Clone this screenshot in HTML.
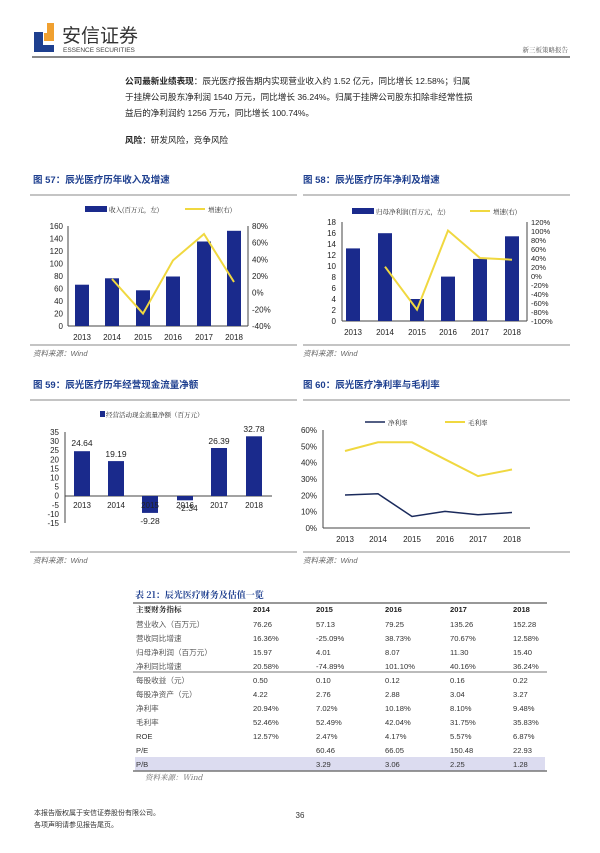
<!DOCTYPE html>
<html><head><meta charset="utf-8"><style>
body{margin:0;background:#fff}
svg text{font-family:"Liberation Sans","Noto Sans CJK SC",sans-serif}
.cn{font-family:"Noto Serif CJK SC","Noto Sans CJK SC",serif}
</style></head><body>
<svg width="600" height="848" viewBox="0 0 600 848" xmlns="http://www.w3.org/2000/svg">
<!-- header -->
<rect x="34" y="32" width="9" height="20" fill="#1e3f8f"/>
<rect x="34" y="45" width="20" height="7" fill="#1e3f8f"/>
<rect x="44" y="23" width="10" height="18" fill="#f0a030"/>
<rect x="44" y="23" width="3" height="10" fill="#fff"/>
<text x="62" y="42" font-size="19" fill="#333" class="cn" style="font-family:'Noto Sans CJK SC',sans-serif">安信证券</text>
<text x="63" y="52" font-size="6.5" fill="#444">ESSENCE SECURITIES</text>
<text x="568" y="52" font-size="6.5" fill="#555" text-anchor="end" class="cn">新三板策略报告</text>
<rect x="32" y="56" width="538" height="2" fill="#888"/>
<!-- paragraph -->
<g font-size="8.6" fill="#222" class="cn">
<text x="125" y="84"><tspan font-weight="bold">公司最新业绩表现</tspan>：辰光医疗报告期内实现营业收入约 1.52 亿元，同比增长 12.58%；归属</text>
<text x="125" y="100">于挂牌公司股东净利润 1540 万元，同比增长 36.24%。归属于挂牌公司股东扣除非经常性损</text>
<text x="125" y="116">益后的净利润约 1256 万元，同比增长 100.74%。</text>
<text x="125" y="143"><tspan font-weight="bold">风险</tspan>：研发风险，竞争风险</text>
</g>
<!-- titles -->
<g font-size="9.5" font-weight="bold" fill="#1e3f8f" class="cn">
<text x="33" y="183">图 57：辰光医疗历年收入及增速</text>
<text x="303" y="183">图 58：辰光医疗历年净利及增速</text>
<text x="33" y="388">图 59：辰光医疗历年经营现金流量净额</text>
<text x="303" y="388">图 60：辰光医疗净利率与毛利率</text>
</g>
<g stroke="#888" stroke-width="1">
<line x1="30" y1="195" x2="297" y2="195"/><line x1="303" y1="195" x2="570" y2="195"/>
<line x1="30" y1="345" x2="297" y2="345"/><line x1="303" y1="345" x2="570" y2="345"/>
<line x1="30" y1="400" x2="297" y2="400"/><line x1="303" y1="400" x2="570" y2="400"/>
<line x1="30" y1="552" x2="297" y2="552"/><line x1="303" y1="552" x2="570" y2="552"/>
</g>
<g font-size="7.5" fill="#666" font-style="italic" class="cn">
<text x="33" y="356">资料来源：Wind</text><text x="303" y="356">资料来源：Wind</text>
<text x="33" y="563">资料来源：Wind</text><text x="303" y="563">资料来源：Wind</text>
</g>
<!-- chart 57 -->
<g font-size="8" fill="#222">
<rect x="85" y="206" width="22" height="6" fill="#1a2a8c"/><text x="109" y="212" font-size="6.5" class="cn">收入(百万元，左)</text>
<line x1="185" y1="209" x2="205" y2="209" stroke="#f0d840" stroke-width="2"/><text x="208" y="212" font-size="6.5" class="cn">增速(右)</text>
<line x1="68" y1="226" x2="68" y2="326" stroke="#444"/><line x1="68" y1="326" x2="248" y2="326" stroke="#444"/><line x1="248" y1="226" x2="248" y2="326" stroke="#444"/>
<g text-anchor="end"><text x="63" y="229">160</text><text x="63" y="241.5">140</text><text x="63" y="254">120</text><text x="63" y="266.5">100</text><text x="63" y="279">80</text><text x="63" y="291.5">60</text><text x="63" y="304">40</text><text x="63" y="316.5">20</text><text x="63" y="329">0</text></g>
<g><text x="252" y="229">80%</text><text x="252" y="245.7">60%</text><text x="252" y="262.3">40%</text><text x="252" y="279">20%</text><text x="252" y="295.7">0%</text><text x="252" y="312.3">-20%</text><text x="252" y="329">-40%</text></g>
<g fill="#1a2a8c"><rect x="75" y="284.7" width="14" height="41.3"/><rect x="105" y="278.3" width="14" height="47.7"/><rect x="136" y="290.3" width="14" height="35.7"/><rect x="166" y="276.5" width="14" height="49.5"/><rect x="197" y="241.5" width="14" height="84.5"/><rect x="227" y="230.8" width="14" height="95.2"/></g>
<polyline points="112,279 143,313.6 173,260.4 204,234 234,282" fill="none" stroke="#f0d840" stroke-width="2"/>
<g text-anchor="middle"><text x="82" y="340">2013</text><text x="112" y="340">2014</text><text x="143" y="340">2015</text><text x="173" y="340">2016</text><text x="204" y="340">2017</text><text x="234" y="340">2018</text></g>
</g>
<!-- chart 58 -->
<g font-size="8" fill="#222">
<rect x="352" y="208" width="22" height="6" fill="#1a2a8c"/><text x="376" y="214" font-size="6.5" class="cn">归母净利润(百万元，左)</text>
<line x1="470" y1="211" x2="490" y2="211" stroke="#f0d840" stroke-width="2"/><text x="493" y="214" font-size="6.5" class="cn">增速(右)</text>
<line x1="342" y1="222" x2="342" y2="321" stroke="#444"/><line x1="342" y1="321" x2="527" y2="321" stroke="#444"/><line x1="527" y1="222" x2="527" y2="321" stroke="#444"/>
<g text-anchor="end"><text x="336" y="225">18</text><text x="336" y="236">16</text><text x="336" y="247">14</text><text x="336" y="258">12</text><text x="336" y="269">10</text><text x="336" y="280">8</text><text x="336" y="291">6</text><text x="336" y="302">4</text><text x="336" y="313">2</text><text x="336" y="324">0</text></g>
<g font-size="7.5"><text x="531" y="225">120%</text><text x="531" y="234">100%</text><text x="531" y="243">80%</text><text x="531" y="252">60%</text><text x="531" y="261">40%</text><text x="531" y="270">20%</text><text x="531" y="279">0%</text><text x="531" y="288">-20%</text><text x="531" y="297">-40%</text><text x="531" y="306">-60%</text><text x="531" y="315">-80%</text><text x="531" y="324">-100%</text></g>
<g fill="#1a2a8c"><rect x="346" y="248.4" width="14" height="72.6"/><rect x="378" y="233.2" width="14" height="87.8"/><rect x="410" y="299" width="14" height="22"/><rect x="441" y="276.6" width="14" height="44.4"/><rect x="473" y="258.9" width="14" height="62.1"/><rect x="505" y="236.3" width="14" height="84.7"/></g>
<polyline points="385,266.7 417,309.6 448,230.5 480,258 512,259.7" fill="none" stroke="#f0d840" stroke-width="2"/>
<g text-anchor="middle"><text x="353" y="335">2013</text><text x="385" y="335">2014</text><text x="417" y="335">2015</text><text x="448" y="335">2016</text><text x="480" y="335">2017</text><text x="512" y="335">2018</text></g>
</g>
<!-- chart 59 -->
<g font-size="8" fill="#222">
<rect x="100" y="411" width="5" height="6" fill="#1a2a8c"/><text x="106" y="417" font-size="6.5" class="cn">经营活动现金流量净额（百万元）</text>
<line x1="65" y1="432" x2="65" y2="523" stroke="#444"/><line x1="65" y1="496" x2="272" y2="496" stroke="#444"/>
<g text-anchor="end"><text x="59" y="435">35</text><text x="59" y="444">30</text><text x="59" y="453.2">25</text><text x="59" y="462.3">20</text><text x="59" y="471.4">15</text><text x="59" y="480.5">10</text><text x="59" y="489.6">5</text><text x="59" y="498.7">0</text><text x="59" y="507.8">-5</text><text x="59" y="516.9">-10</text><text x="59" y="526">-15</text></g>
<g fill="#1a2a8c"><rect x="74" y="451.2" width="16" height="44.8"/><rect x="108" y="461.1" width="16" height="34.9"/><rect x="142" y="496" width="16" height="16.9"/><rect x="177" y="496" width="16" height="4.3"/><rect x="211" y="448" width="16" height="48"/><rect x="246" y="436.3" width="16" height="59.7"/></g>
<g text-anchor="middle"><text x="82" y="508">2013</text><text x="116" y="508">2014</text><text x="150" y="508">2015</text><text x="185" y="508">2016</text><text x="219" y="508">2017</text><text x="254" y="508">2018</text>
<text x="82" y="446" font-size="8.5">24.64</text><text x="116" y="457" font-size="8.5">19.19</text><text x="150" y="524" font-size="8.5">-9.28</text><text x="188" y="511" font-size="8.5">-2.34</text><text x="219" y="444" font-size="8.5">26.39</text><text x="254" y="432" font-size="8.5">32.78</text></g>
</g>
<!-- chart 60 -->
<g font-size="8" fill="#222">
<line x1="365" y1="422" x2="385" y2="422" stroke="#1a2a5c" stroke-width="1.5"/><text x="388" y="425" font-size="6.5" class="cn">净利率</text>
<line x1="445" y1="422" x2="465" y2="422" stroke="#f0d840" stroke-width="2"/><text x="468" y="425" font-size="6.5" class="cn">毛利率</text>
<line x1="323" y1="430" x2="323" y2="528" stroke="#444"/><line x1="323" y1="528" x2="530" y2="528" stroke="#444"/>
<g text-anchor="end"><text x="317" y="433">60%</text><text x="317" y="449.3">50%</text><text x="317" y="465.7">40%</text><text x="317" y="482">30%</text><text x="317" y="498.3">20%</text><text x="317" y="514.7">10%</text><text x="317" y="531">0%</text></g>
<polyline points="345,451 378,442.3 412,442.3 445,459.3 478,476.1 512,469.5" fill="none" stroke="#f0d840" stroke-width="2"/>
<polyline points="345,495 378,493.8 412,516.5 445,511.4 478,514.8 512,512.5" fill="none" stroke="#1a2a5c" stroke-width="1.5"/>
<g text-anchor="middle"><text x="345" y="542">2013</text><text x="378" y="542">2014</text><text x="412" y="542">2015</text><text x="445" y="542">2016</text><text x="478" y="542">2017</text><text x="512" y="542">2018</text></g>
</g>
<!-- table -->
<text x="135" y="598" font-size="9" font-weight="bold" fill="#1e3f8f" class="cn">表 21：辰光医疗财务及估值一览</text>
<rect x="135" y="757" width="410" height="14" fill="#dcdcf0"/>
<line x1="133" y1="603" x2="547" y2="603" stroke="#777" stroke-width="1.5"/>
<line x1="133" y1="672" x2="547" y2="672" stroke="#777" stroke-width="1"/>
<line x1="133" y1="771" x2="547" y2="771" stroke="#777" stroke-width="1.5"/>
<g font-size="7.6" fill="#333">
<g font-weight="bold" fill="#222"><text x="136" y="612" class="cn">主要财务指标</text><text x="253" y="612">2014</text><text x="316" y="612">2015</text><text x="385" y="612">2016</text><text x="450" y="612">2017</text><text x="513" y="612">2018</text></g>
<g class="cn" fill="#555"><text x="136" y="627">营业收入（百万元）</text><text x="136" y="641">营收同比增速</text><text x="136" y="655">归母净利润（百万元）</text><text x="136" y="669">净利同比增速</text><text x="136" y="683">每股收益（元）</text><text x="136" y="697">每股净资产（元）</text><text x="136" y="711">净利率</text><text x="136" y="725">毛利率</text></g>
<text x="136" y="739">ROE</text><text x="136" y="753">P/E</text><text x="136" y="767">P/B</text>
<g><text x="253" y="627">76.26</text><text x="316" y="627">57.13</text><text x="385" y="627">79.25</text><text x="450" y="627">135.26</text><text x="513" y="627">152.28</text>
<text x="253" y="641">16.36%</text><text x="316" y="641">-25.09%</text><text x="385" y="641">38.73%</text><text x="450" y="641">70.67%</text><text x="513" y="641">12.58%</text>
<text x="253" y="655">15.97</text><text x="316" y="655">4.01</text><text x="385" y="655">8.07</text><text x="450" y="655">11.30</text><text x="513" y="655">15.40</text>
<text x="253" y="669">20.58%</text><text x="316" y="669">-74.89%</text><text x="385" y="669">101.10%</text><text x="450" y="669">40.16%</text><text x="513" y="669">36.24%</text>
<text x="253" y="683">0.50</text><text x="316" y="683">0.10</text><text x="385" y="683">0.12</text><text x="450" y="683">0.16</text><text x="513" y="683">0.22</text>
<text x="253" y="697">4.22</text><text x="316" y="697">2.76</text><text x="385" y="697">2.88</text><text x="450" y="697">3.04</text><text x="513" y="697">3.27</text>
<text x="253" y="711">20.94%</text><text x="316" y="711">7.02%</text><text x="385" y="711">10.18%</text><text x="450" y="711">8.10%</text><text x="513" y="711">9.48%</text>
<text x="253" y="725">52.46%</text><text x="316" y="725">52.49%</text><text x="385" y="725">42.04%</text><text x="450" y="725">31.75%</text><text x="513" y="725">35.83%</text>
<text x="253" y="739">12.57%</text><text x="316" y="739">2.47%</text><text x="385" y="739">4.17%</text><text x="450" y="739">5.57%</text><text x="513" y="739">6.87%</text>
<text x="316" y="753">60.46</text><text x="385" y="753">66.05</text><text x="450" y="753">150.48</text><text x="513" y="753">22.93</text>
<text x="316" y="767">3.29</text><text x="385" y="767">3.06</text><text x="450" y="767">2.25</text><text x="513" y="767">1.28</text></g>
</g>
<text x="145" y="780" font-size="7.5" fill="#666" font-style="italic" class="cn">资料来源：Wind</text>
<!-- footer -->
<g font-size="7" fill="#333" class="cn"><text x="34" y="815">本报告版权属于安信证券股份有限公司。</text><text x="34" y="827">各项声明请参见报告尾页。</text></g>
<text x="300" y="818" font-size="8" fill="#333" text-anchor="middle">36</text>
</svg>
</body></html>
